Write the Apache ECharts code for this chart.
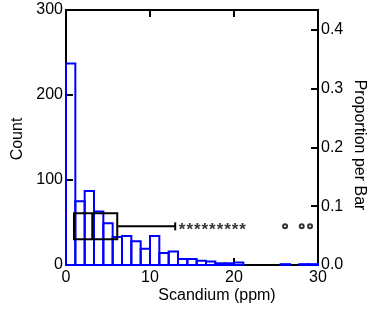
<!DOCTYPE html>
<html><head><meta charset="utf-8">
<script src="https://cdn.jsdelivr.net/npm/echarts@6/dist/echarts.min.js"></script>
<style>html,body{margin:0;padding:0;background:#fff}#c{width:367px;height:311px}</style>
</head><body><div id="c"></div>
<script>
// Histogram: 27 bins spanning 0..30 ppm
const binStart = 0;
const binCount = 27;
const binEnd = 30;
const counts = [237,75,87,63,49,33,34,28,19,34,14,16,7,7,5,4,2,2,3,0,0,0,0,1,0,1,1];
// Box plot summary (ppm)
const boxStats = { q1: 0.95, median: 3.13, q3: 6.1, whiskerHigh: 13.0 };
// Outliers (ppm)
const starOutliers = [13.83,14.73,15.63,16.53,17.43,18.33,19.23,20.13,21.03];
const circleOutliers = [26.08,28.06,29.05];
// Axis ticks
const xTicks = [0,10,20,30];
const countTicks = [0,100,200,300];
const propTicks = [0.0,0.1,0.2,0.3,0.4];
const propMax = 0.434;

const binWidth = (binEnd - binStart) / binCount;
const boxLevel = 45.5; // vertical placement of box plot (count units)
const FONT = "'Liberation Sans', Arial, sans-serif";

const histData = [];
counts.forEach((c,i)=>{ if (c>0) histData.push([binStart+i*binWidth, c, binStart+(i+1)*binWidth]); });

const chart = echarts.init(document.getElementById('c'), null, {renderer:'canvas'});
const axisLine = {show:true, onZero:false, lineStyle:{color:'#000', width:2}};
const tick = {show:true, inside:true, length:7, lineStyle:{color:'#000', width:2}};
const lbl = {color:'#000', fontSize:16, fontFamily:FONT};

chart.setOption({
  animation:false,
  grid:{left:66, right:49, top:10, bottom:46, containLabel:false},
  xAxis:[
    {type:'value', min:xTicks[0], max:xTicks[xTicks.length-1], interval:10, position:'bottom',
     axisLine, axisTick:tick, splitLine:{show:false}, axisLabel:{...lbl, margin:5}},
    {type:'value', min:xTicks[0], max:xTicks[xTicks.length-1], interval:10, position:'top',
     axisLine, axisTick:tick, splitLine:{show:false}, axisLabel:{show:false}}
  ],
  yAxis:[
    {type:'value', min:countTicks[0], max:countTicks[countTicks.length-1], interval:100, position:'left',
     axisLine, axisTick:tick, splitLine:{show:false}, axisLabel:{...lbl, margin:3}},
    {type:'value', min:propTicks[0], max:propMax, interval:0.1, position:'right',
     axisLine, axisTick:tick, splitLine:{show:false},
     axisLabel:{...lbl, margin:3, showMaxLabel:false, formatter:v=>v.toFixed(1)}}
  ],
  series:[
    {type:'custom', xAxisIndex:0, yAxisIndex:0, data:histData, z:3,
     renderItem:(p,api)=>{
       const a = api.coord([api.value(0),0]);
       const b = api.coord([api.value(2),api.value(1)]);
       return {type:'rect', shape:{x:a[0], y:b[1], width:b[0]-a[0], height:a[1]-b[1]},
               style:{fill:'none', stroke:'#0000ff', lineWidth:2}};
     }},
    {type:'custom', xAxisIndex:0, yAxisIndex:0, z:4,
     data:[[boxStats.q1, boxStats.median, boxStats.q3, boxStats.whiskerHigh]],
     renderItem:(p,api)=>{
       const h = 13, cap = 4;
       const q1 = api.coord([api.value(0), boxLevel]);
       const md = api.coord([api.value(1), boxLevel]);
       const q3 = api.coord([api.value(2), boxLevel]);
       const wh = api.coord([api.value(3), boxLevel]);
       const st = {stroke:'#000', lineWidth:2, fill:'none'};
       return {type:'group', children:[
         {type:'rect', shape:{x:q1[0], y:q1[1]-h, width:q3[0]-q1[0], height:2*h}, style:st},
         {type:'line', shape:{x1:md[0], y1:md[1]-h, x2:md[0], y2:md[1]+h}, style:st},
         {type:'line', shape:{x1:q3[0], y1:q3[1], x2:wh[0], y2:wh[1]}, style:st},
         {type:'line', shape:{x1:wh[0], y1:wh[1]-cap, x2:wh[0], y2:wh[1]+cap}, style:st}
       ]};
     }},
    {type:'scatter', xAxisIndex:0, yAxisIndex:0, z:5, symbolSize:1, itemStyle:{color:'rgba(0,0,0,0)'},
     data:starOutliers.map(v=>[v, boxLevel]),
     label:{show:true, position:'inside', formatter:'*', color:'#000', fontSize:17, fontWeight:'bold',
            fontFamily:FONT, offset:[0,4]}},
    {type:'scatter', xAxisIndex:0, yAxisIndex:0, z:5, symbol:'emptyCircle', symbolSize:4,
     itemStyle:{color:'#000', borderColor:'#000', borderWidth:1},
     data:circleOutliers.map(v=>[v, boxLevel])}
  ],
  graphic:[
    {type:'text', x:18, y:139, rotation:Math.PI/2,
     style:{text:'Count', fill:'#000', font:'16px '+FONT, textAlign:'center', textVerticalAlign:'middle'}},
    {type:'text', x:359, y:145, rotation:-Math.PI/2,
     style:{text:'Proportion per Bar', fill:'#000', font:'16px '+FONT, textAlign:'center', textVerticalAlign:'middle'}},
    {type:'text', x:217, y:296,
     style:{text:'Scandium (ppm)', fill:'#000', font:'16px '+FONT, textAlign:'center', textVerticalAlign:'middle'}}
  ]
});
</script></body></html>
